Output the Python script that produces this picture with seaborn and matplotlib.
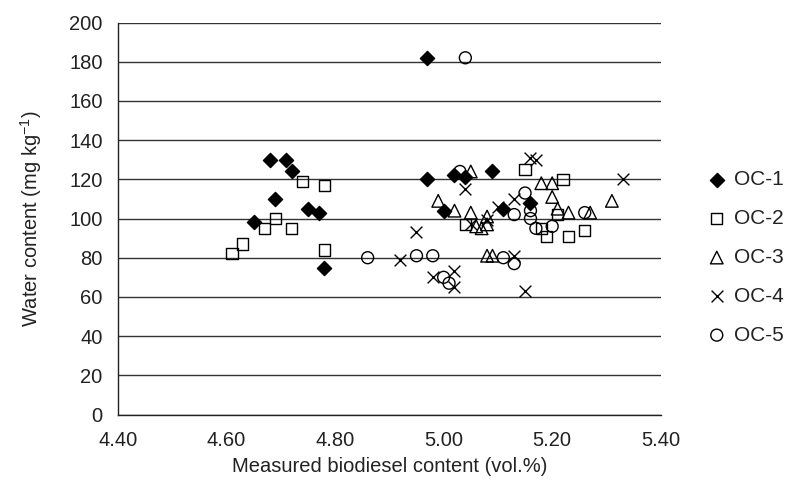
import numpy as np
import pandas as pd
import matplotlib
matplotlib.use("Agg")
import matplotlib.pyplot as plt
import seaborn as sns

# values
oc1_x = [4.65, 4.68, 4.69, 4.71, 4.72, 4.75, 4.77, 4.78, 4.97, 4.97, 5.00, 5.02, 5.04, 5.09, 5.11, 5.16]
oc1_y = [98, 130, 110, 130, 124, 105, 103, 75, 182, 120, 104, 122, 121, 124, 105, 108]

oc2_x = [4.61, 4.63, 4.67, 4.69, 4.72, 4.74, 4.78, 4.78, 5.04, 5.15, 5.18, 5.19, 5.21, 5.22, 5.23, 5.26]
oc2_y = [82, 87, 95, 100, 95, 119, 117, 84, 97, 125, 95, 91, 102, 120, 91, 94]

oc3_x = [4.99, 5.02, 5.05, 5.05, 5.06, 5.07, 5.08, 5.08, 5.08, 5.09, 5.18, 5.20, 5.20, 5.21, 5.23, 5.27, 5.31]
oc3_y = [109, 104, 103, 124, 96, 95, 101, 97, 81, 81, 118, 118, 111, 105, 103, 103, 109]

oc4_x = [4.92, 4.95, 4.98, 5.02, 5.02, 5.04, 5.05, 5.08, 5.10, 5.13, 5.13, 5.15, 5.16, 5.17, 5.33]
oc4_y = [79, 93, 70, 73, 65, 115, 97, 99, 106, 110, 81, 63, 131, 130, 120]

oc5_x = [4.86, 4.95, 4.98, 5.00, 5.01, 5.03, 5.04, 5.11, 5.13, 5.13, 5.15, 5.16, 5.16, 5.17, 5.20, 5.26]
oc5_y = [80, 81, 81, 70, 67, 124, 182, 80, 77, 102, 113, 104, 100, 95, 96, 103]

series = ["OC-1", "OC-2", "OC-3", "OC-4", "OC-5"]
xs = [oc1_x, oc2_x, oc3_x, oc4_x, oc5_x]
ys = [oc1_y, oc2_y, oc3_y, oc4_y, oc5_y]

x_ticks = [4.40, 4.60, 4.80, 5.00, 5.20, 5.40]
y_ticks = list(range(0, 201, 20))

df = pd.DataFrame({
    "biodiesel": np.concatenate(xs),
    "water": np.concatenate(ys),
    "series": np.repeat(series, [len(v) for v in xs]),
})

sns.set_style("white")
plt.rcParams["font.family"] = ["Liberation Sans", "DejaVu Sans"]
plt.rcParams["mathtext.fontset"] = "custom"
plt.rcParams["mathtext.rm"] = "Liberation Sans"

fig = plt.figure(figsize=(7.85, 4.83), dpi=100)
ax = fig.add_axes([0.1503, 0.1418, 0.6914, 0.8116])

styles = {
    "OC-1": dict(marker="D", s=52, color="black", edgecolor="black"),
    "OC-2": dict(marker="s", s=66, color="black", facecolor="none", edgecolor="black"),
    "OC-3": dict(marker="^", s=82, color="black", facecolor="none", edgecolor="black"),
    "OC-4": dict(marker="x", s=72, color="black"),
    "OC-5": dict(marker="o", s=74, color="black", facecolor="none", edgecolor="black"),
}

for name in series:
    sns.scatterplot(data=df[df.series == name], x="biodiesel", y="water",
                    ax=ax, label=name, linewidth=1.0, zorder=3, **styles[name])

ax.set_xlim(4.40, 5.40)
ax.set_ylim(0, 200)
ax.set_xticks(x_ticks)
ax.set_xticklabels([f"{t:.2f}" for t in x_ticks])
ax.set_yticks(y_ticks)
ax.yaxis.grid(True, color="#333333", linewidth=1.0)
ax.set_axisbelow(True)
for side in ["top", "right"]:
    ax.spines[side].set_visible(False)
for side in ["left", "bottom"]:
    ax.spines[side].set_color("#222222")
    ax.spines[side].set_linewidth(1.0)
ax.tick_params(axis="both", direction="out", length=5, width=1.0, color="#222222",
               labelsize=14.5, labelcolor="#222222")
ax.tick_params(axis="y", pad=6)
ax.tick_params(axis="x", pad=7)

ax.set_xlabel("Measured biodiesel content (vol.%)", fontsize=14.5, color="#222222", labelpad=5)
ax.set_ylabel(r"Water content (mg kg$^{\mathregular{-1}}$)", fontsize=14.5, color="#222222", labelpad=18)

ax.legend(loc="center left", bbox_to_anchor=(1.061, 0.4005), frameon=False, fontsize=15,
          labelspacing=0.95, handlelength=1.4, handletextpad=0.15, borderaxespad=0,
          labelcolor="#222222")

fig.savefig("out.png", dpi=100)
